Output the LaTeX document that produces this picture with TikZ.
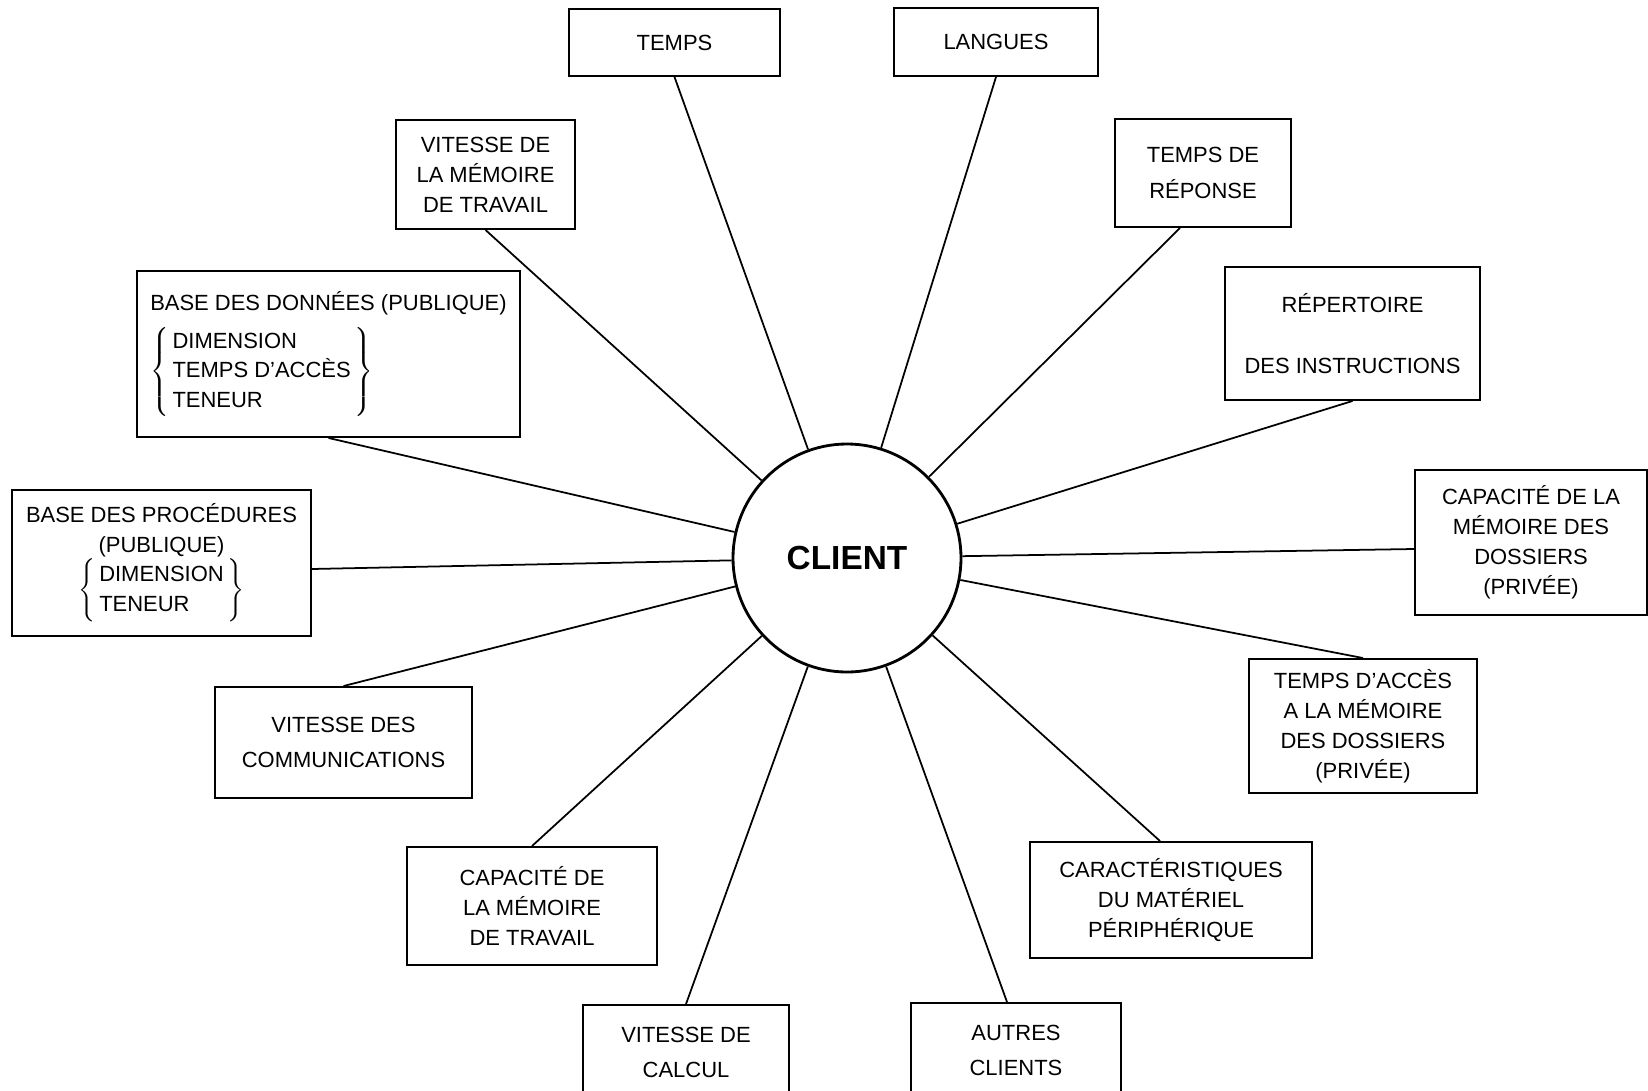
\documentclass[tikz,border=0pt]{standalone}
\usepackage{amsmath}
\usepackage{fontspec}
\setmainfont{Liberation Sans}
\usepackage{tikz}

\newcommand{\bracelist}[1]{$\left\{\begin{tabular}{@{\hspace{2pt}}l@{\hspace{2pt}}}#1\end{tabular}\right\}$}

\begin{document}
\begin{tikzpicture}[
  box/.style={draw, line width=1.1pt, align=center, inner sep=3pt, font=\fontsize{12.5}{17}\selectfont},
  spoke/.style={line width=1pt}
]
\useasboundingbox (0,0) rectangle (32.96,-21.82);
% centre
\node[circle, draw, line width=1.6pt, minimum size=4.56cm, font=\fontsize{19}{22}\selectfont\bfseries] (client) at (16.94,-11.16) {CLIENT};
% top row
\node[box, minimum width=4.22cm, minimum height=1.34cm] (temps) at (13.49,-0.85) {TEMPS};
\node[box, minimum width=4.08cm, minimum height=1.36cm] (langues) at (19.92,-0.84) {LANGUES};
\node[box, minimum width=3.58cm, minimum height=2.18cm] (vitmem) at (9.71,-3.49) {VITESSE DE\\LA MÉMOIRE\\DE TRAVAIL};
\node[box, minimum width=3.52cm, minimum height=2.16cm] (reponse) at (24.06,-3.46) {TEMPS DE\\[3pt]RÉPONSE};
% left side
\node[box, align=left, minimum width=7.66cm, minimum height=3.32cm] (donnees) at (6.57,-7.08) {BASE DES DONNÉES (PUBLIQUE)\\[6pt]\bracelist{DIMENSION\\TEMPS D'ACCÈS\\TENEUR}};
\node[box, minimum width=5.98cm, minimum height=2.92cm] (procedures) at (3.23,-11.26) {BASE DES PROCÉDURES\\(PUBLIQUE)\\\bracelist{DIMENSION\\TENEUR}};
\node[box, minimum width=5.14cm, minimum height=2.22cm] (comm) at (6.87,-14.85) {VITESSE DES\\[3pt]COMMUNICATIONS};
% right side
\node[box, minimum width=5.10cm, minimum height=2.66cm] (repertoire) at (27.05,-6.67) {RÉPERTOIRE\\[18pt]DES INSTRUCTIONS};
\node[box, minimum width=4.64cm, minimum height=2.90cm] (dossiers) at (30.62,-10.85) {CAPACITÉ DE LA\\MÉMOIRE DES\\DOSSIERS\\(PRIVÉE)};
\node[box, minimum width=4.56cm, minimum height=2.68cm] (acces) at (27.26,-14.52) {TEMPS D'ACCÈS\\A LA MÉMOIRE\\DES DOSSIERS\\(PRIVÉE)};
% bottom row
\node[box, minimum width=5.00cm, minimum height=2.36cm] (captrav) at (10.64,-18.12) {CAPACITÉ DE\\LA MÉMOIRE\\DE TRAVAIL};
\node[box, minimum width=5.64cm, minimum height=2.32cm] (peripherique) at (23.42,-18.00) {CARACTÉRISTIQUES\\DU MATÉRIEL\\PÉRIPHÉRIQUE};
\node[box, minimum width=4.12cm, minimum height=1.90cm] (calcul) at (13.72,-21.05) {VITESSE DE\\[3pt]CALCUL};
\node[box, minimum width=4.20cm, minimum height=1.90cm] (autres) at (20.32,-21.01) {AUTRES\\[3pt]CLIENTS};
% spokes
\draw[spoke] (temps.south) -- (client);
\draw[spoke] (langues.south) -- (client);
\draw[spoke] (vitmem.south) -- (client);
\draw[spoke] ([xshift=-0.46cm]reponse.south) -- (client);
\draw[spoke] (donnees.south) -- (client);
\draw[spoke] (repertoire.south) -- (client);
\draw[spoke] ([yshift=-0.12cm]procedures.east) -- (client);
\draw[spoke] ([yshift=-0.13cm]dossiers.west) -- (client);
\draw[spoke] (comm.north) -- (client);
\draw[spoke] (acces.north) -- (client);
\draw[spoke] (captrav.north) -- (client);
\draw[spoke] ([xshift=-0.22cm]peripherique.north) -- (client);
\draw[spoke] (calcul.north) -- (client);
\draw[spoke] ([xshift=-0.18cm]autres.north) -- (client);
\end{tikzpicture}
\end{document}
